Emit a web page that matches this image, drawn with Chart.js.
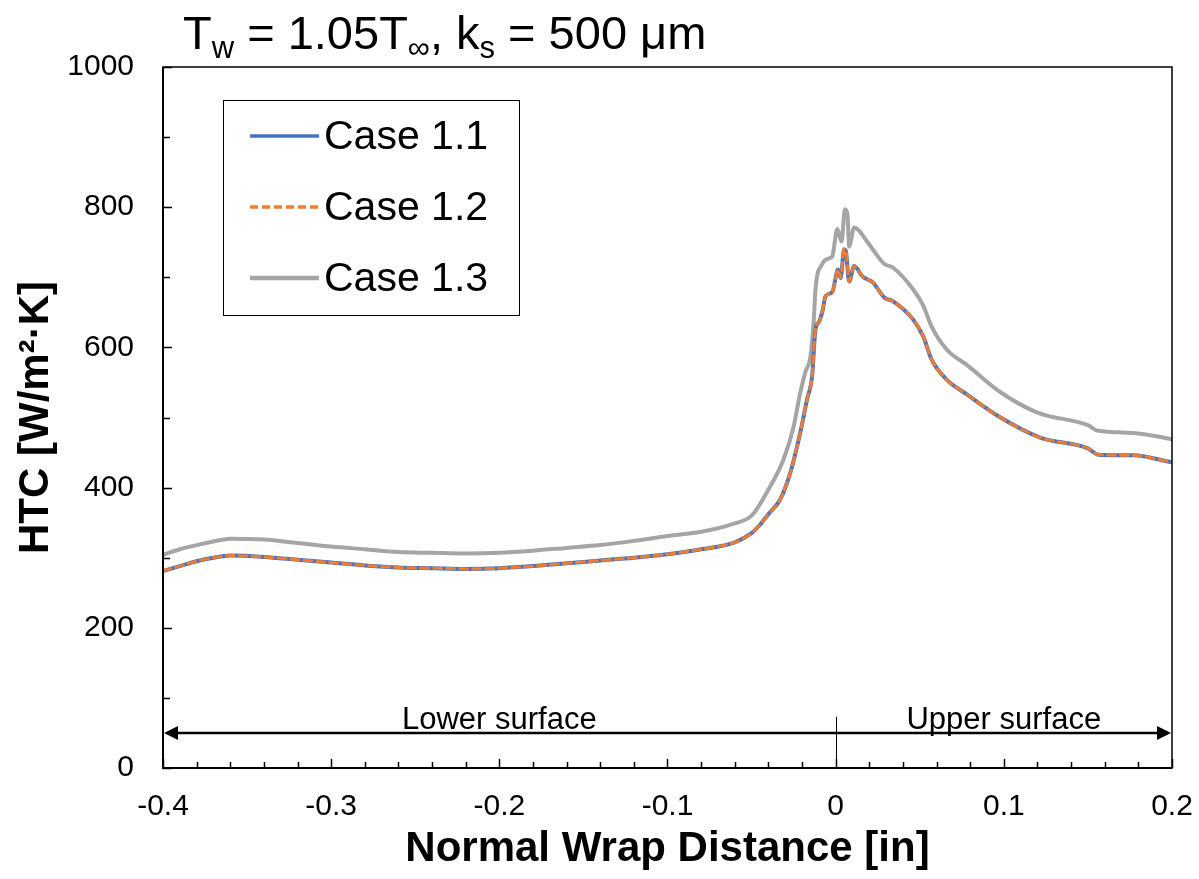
<!DOCTYPE html>
<html>
<head>
<meta charset="utf-8">
<script src="https://cdn.jsdelivr.net/npm/chart.js@4"></script>
<style>
html,body{margin:0;padding:0;background:#fff;}
</style>
</head>
<body>
<canvas id="htc" width="1199" height="879"></canvas>
<script>
/* DATOS */

// Case 1.1 and Case 1.2 lie on top of each other
const xCase1 = [-0.4,-0.39,-0.38,-0.37,-0.36,-0.34,-0.32,-0.30,-0.28,-0.26,-0.24,-0.22,-0.20,-0.18,-0.16,-0.14,-0.12,-0.10,-0.08,-0.06,-0.05,-0.045,-0.04,-0.033,-0.027,-0.021,-0.017,-0.014,-0.012,-0.010,-0.008,-0.006,-0.002,0.0014,0.003,0.005,0.006,0.008,0.011,0.016,0.022,0.029,0.034,0.046,0.052,0.057,0.066,0.078,0.098,0.122,0.150,0.156,0.177,0.200];
const case11 = [281,288,295,300,303,301,297,293,289,286,285,284,285,288,292,296,300,305,312,322,335,347,362,383,421,479,526,559,626,636,650,673,679,711,699,740,738,694,716,701,693,671,666,640,616,583,554,533,500,471,456,447,446,436];
const case12 = [281,288,295,300,303,301,297,293,289,286,285,284,285,288,292,296,300,305,312,322,335,347,362,383,421,479,526,559,626,636,650,673,679,711,699,740,738,694,716,701,693,671,666,640,616,583,554,533,500,471,456,447,446,436];

const xCase13 = [-0.4,-0.39,-0.38,-0.37,-0.36,-0.34,-0.32,-0.30,-0.28,-0.26,-0.24,-0.22,-0.20,-0.18,-0.16,-0.14,-0.12,-0.10,-0.08,-0.06,-0.05,-0.041,-0.031,-0.025,-0.021,-0.018,-0.015,-0.013,-0.012,-0.008,-0.004,-0.002,0.001,0.0035,0.0055,0.007,0.008,0.011,0.019,0.022,0.029,0.034,0.046,0.052,0.057,0.066,0.078,0.098,0.120,0.150,0.156,0.177,0.200];
const case13 = [304,312,318,323,327,326,321,316,312,308,307,306,307,310,314,318,324,331,337,349,360,393,440,487,536,565,587,640,683,719,727,730,769,751,797,790,744,771,750,740,719,714,683,660,630,597,575,536,507,489,481,478,469];

const seriesNames = ['Case 1.1','Case 1.2','Case 1.3'];
const seriesColors = ['#4472C4','#ED7D31','#A5A5A5'];
const xTicks = [-0.4,-0.3,-0.2,-0.1,0,0.1,0.2];
const yTicks = [0,200,400,600,800,1000];
const surfaceLabels = ['Lower surface','Upper surface'];

function puntos(xs, ys){
  return xs.map((x,i) => ({x:x, y:ys[i]}));
}

const FONT = "'Liberation Sans', Arial, sans-serif";

/* EXTRAS: marco, ticks, flechas, leyenda, titulo */

const extras = {
  id: 'extras',
  afterDraw(chart){
    const c = chart.ctx;
    const a = chart.chartArea;
    const sx = chart.scales.x, sy = chart.scales.y;
    c.save();

    // frame
    c.strokeStyle = '#000';
    c.lineWidth = 1.5;
    c.strokeRect(a.left, a.top, a.right - a.left, a.bottom - a.top);
    c.lineWidth = 2;
    c.beginPath();
    c.moveTo(a.left, a.top); c.lineTo(a.left, a.bottom); c.lineTo(a.right, a.bottom);
    c.stroke();

    // inward ticks
    c.lineWidth = 1.5;
    c.beginPath();
    for (let i = 0; i <= 30; i++){
      const v = -0.4 + i*0.02;
      const px = Math.round(sx.getPixelForValue(v)) + 0.5;
      const len = (i % 5 === 0) ? 9 : 6;
      c.moveTo(px, a.bottom); c.lineTo(px, a.bottom - len);
    }
    for (let v = 0; v <= 1000; v += 100){
      const py = Math.round(sy.getPixelForValue(v)) + 0.5;
      const len = (v % 200 === 0) ? 9 : 7;
      c.moveTo(a.left, py); c.lineTo(a.left + len, py);
    }
    c.stroke();

    // surface arrow
    const ya = sy.getPixelForValue(50);
    const xl = sx.getPixelForValue(-0.4), xr = sx.getPixelForValue(0.2);
    c.lineWidth = 2.5;
    c.beginPath();
    c.moveTo(xl + 8, ya); c.lineTo(xr - 8, ya);
    c.stroke();
    c.fillStyle = '#000';
    c.beginPath();
    c.moveTo(xl + 1, ya); c.lineTo(xl + 15, ya - 7); c.lineTo(xl + 15, ya + 7); c.closePath();
    c.fill();
    c.beginPath();
    c.moveTo(xr - 1, ya); c.lineTo(xr - 15, ya - 7); c.lineTo(xr - 15, ya + 7); c.closePath();
    c.fill();
    c.lineWidth = 1;
    const x0 = Math.round(sx.getPixelForValue(0)) + 0.5;
    c.beginPath();
    c.moveTo(x0, sy.getPixelForValue(73)); c.lineTo(x0, a.bottom);
    c.stroke();

    c.font = '31px ' + FONT;
    c.textAlign = 'center';
    c.textBaseline = 'alphabetic';
    c.fillText(surfaceLabels[0], sx.getPixelForValue(-0.2), ya - 4);
    c.fillText(surfaceLabels[1], sx.getPixelForValue(0.1), ya - 4);

    // legend
    c.fillStyle = '#fff';
    c.fillRect(223, 100, 297, 215);
    c.strokeStyle = '#000';
    c.lineWidth = 1;
    c.strokeRect(223.5, 100.5, 296, 215);
    const ly = [136, 207, 278];
    c.font = '41px ' + FONT;
    c.textAlign = 'left';
    c.textBaseline = 'middle';
    for (let i = 0; i < 3; i++){
      c.strokeStyle = seriesColors[i];
      c.lineWidth = i === 2 ? 4.5 : 3.5;
      c.setLineDash(i === 1 ? [8,4] : []);
      c.beginPath();
      c.moveTo(250, ly[i]); c.lineTo(319, ly[i]);
      c.stroke();
      c.setLineDash([]);
      c.fillStyle = '#000';
      c.fillText(seriesNames[i], 324, ly[i] + 2);
    }

    // title with subscripts
    c.textBaseline = 'alphabetic';
    let tx = 183;
    const parts = [['T',0],['w',1],[' = 1.05T',0],['\u221E',1],[', k',0],['s',1],[' = 500 \u03BCm',0]];
    for (const p of parts){
      c.font = (p[1] ? '31px ' : '47px ') + FONT;
      c.fillText(p[0], tx, p[1] ? 58 : 49);
      tx += c.measureText(p[0]).width;
    }

    // axis titles
    c.font = 'bold 42px ' + FONT;
    c.textAlign = 'center';
    c.textBaseline = 'middle';
    c.fillText('Normal Wrap Distance [in]', (a.left + a.right)/2, 849);
    c.translate(36, (a.top + a.bottom)/2);
    c.rotate(-Math.PI/2);
    c.fillText('HTC [W/m\u00B2\u00B7K]', 0, 0);

    c.restore();
  }
};

/* GRAFICA HTC */

const ctx = document.getElementById('htc');

new Chart(ctx, {
  type: 'line',
  data: {
    datasets: [{
      label: seriesNames[0],
      data: puntos(xCase1, case11),
      borderColor: seriesColors[0],
      borderWidth: 4,
      pointRadius: 0,
      order: 2
    },{
      label: seriesNames[1],
      data: puntos(xCase1, case12),
      borderColor: seriesColors[1],
      borderWidth: 3,
      borderDash: [8,5],
      pointRadius: 0,
      order: 1
    },{
      label: seriesNames[2],
      data: puntos(xCase13, case13),
      borderColor: seriesColors[2],
      borderWidth: 4,
      pointRadius: 0,
      order: 3
    }]
  },
  options: {
    responsive: false,
    animation: false,
    layout: { padding: { top: 67, right: 27, left: 0, bottom: 0 } },
    elements: { line: { cubicInterpolationMode: 'monotone', borderCapStyle: 'round', borderJoinStyle: 'round' } },
    plugins: {
      legend: { display: false },
      tooltip: { enabled: false }
    },
    scales: {
      x: {
        type: 'linear',
        min: -0.4,
        max: 0.2,
        afterFit(s){ s.height = 111; s.paddingLeft = 0; s.paddingRight = 0; },
        afterBuildTicks(s){ s.ticks = xTicks.map(v => ({value: v})); },
        grid: { display: false, drawTicks: false },
        border: { display: false },
        ticks: {
          padding: 21,
          color: '#000',
          font: { family: FONT, size: 30 },
          callback: v => String(Math.round(v*10)/10)
        }
      },
      y: {
        type: 'linear',
        min: 0,
        max: 1000,
        afterFit(s){ s.width = 163; s.paddingTop = 0; s.paddingBottom = 0; },
        afterBuildTicks(s){ s.ticks = yTicks.map(v => ({value: v})); },
        grid: { display: false, drawTicks: false },
        border: { display: false },
        ticks: {
          padding: 29,
          color: '#000',
          font: { family: FONT, size: 30 },
          callback: v => String(v)
        }
      }
    }
  },
  plugins: [extras]
});
</script>
</body>
</html>
